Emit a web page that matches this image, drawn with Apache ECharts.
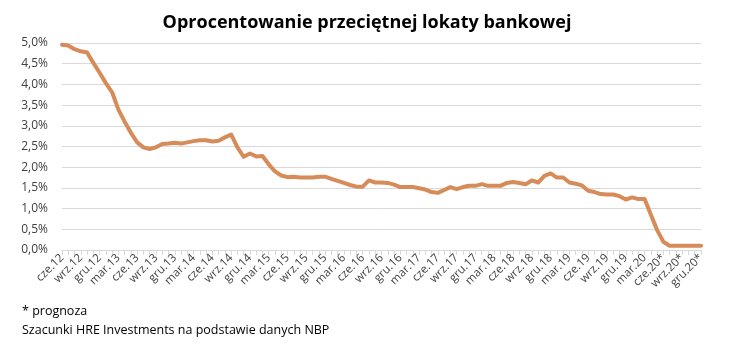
<!DOCTYPE html>
<html>
<head>
<meta charset="utf-8">
<script src="https://cdn.jsdelivr.net/npm/echarts@6/dist/echarts.min.js"></script>
<style>
html,body{margin:0;padding:0;background:#fff;}
#c{width:734px;height:348px;}
</style>
</head>
<body>
<div id="c"></div>
<script>
// Month names (Polish abbreviations) and years covered
var monthNames = ['sty','lut','mar','kwi','maj','cze','lip','sie','wrz','paź','lis','gru'];
var firstYear = 2012, firstMonth = 5; // June 2012
var forecastFrom = 96; // index of cze.20 (forecast marked with *)

// Average bank deposit rate, % (June 2012 – December 2020)
var rates = [
  4.96, 4.94, 4.85, 4.80, 4.77, 4.52, 4.28, 4.03, 3.81, 3.39,
  3.10, 2.83, 2.60, 2.48, 2.44, 2.48, 2.56, 2.57, 2.59, 2.57,
  2.60, 2.63, 2.65, 2.65, 2.62, 2.64, 2.72, 2.79, 2.48, 2.25,
  2.33, 2.26, 2.27, 2.07, 1.90, 1.80, 1.76, 1.77, 1.75, 1.75,
  1.75, 1.77, 1.77, 1.72, 1.67, 1.62, 1.57, 1.53, 1.53, 1.68,
  1.63, 1.63, 1.62, 1.58, 1.52, 1.52, 1.52, 1.49, 1.46, 1.40,
  1.38, 1.45, 1.52, 1.47, 1.52, 1.55, 1.55, 1.59, 1.55, 1.55,
  1.55, 1.62, 1.64, 1.62, 1.59, 1.68, 1.63, 1.79, 1.85, 1.75,
  1.75, 1.63, 1.60, 1.56, 1.43, 1.40, 1.35, 1.34, 1.34, 1.30,
  1.22, 1.27, 1.23, 1.23, 0.85, 0.48, 0.20, 0.10, 0.10, 0.10,
  0.10, 0.10, 0.10
];

var categories = [];
for (var i = 0; i < rates.length; i++) {
  var m = (firstMonth + i) % 12;
  var y = firstYear + Math.floor((firstMonth + i) / 12);
  categories.push(monthNames[m] + '.' + String(y).slice(2) + (i >= forecastFrom ? '*' : ''));
}

var titleText = 'Oprocentowanie przeciętnej lokaty bankowej';
var noteLines = ['* prognoza', 'Szacunki HRE Investments na podstawie danych NBP'];

var chart = echarts.init(document.getElementById('c'));
var font = '"Open Sans", "Noto Sans", sans-serif';
chart.setOption({
  animation: false,
  backgroundColor: '#fff',
  title: {
    text: titleText,
    left: 'center',
    top: 9,
    textStyle: {fontFamily: font, fontSize: 18, fontWeight: 'bold', color: '#000'}
  },
  graphic: [
    {type: 'text', left: 22, top: 305, style: {text: noteLines[0], font: '12.5px ' + font, fill: '#000'}},
    {type: 'text', left: 22, top: 324, style: {text: noteLines[1], font: '12.5px ' + font, fill: '#000'}}
  ],
  grid: {left: 62, right: 33, top: 43, bottom: 98, containLabel: false},
  xAxis: {
    type: 'category',
    data: categories,
    boundaryGap: false,
    axisLine: {lineStyle: {color: '#d9d9d9', width: 1}},
    axisTick: {show: true, interval: 0, length: 5, lineStyle: {color: '#d9d9d9'}},
    axisLabel: {interval: 2, rotate: 45, fontFamily: font, fontSize: 11.5, color: '#404040', margin: 6}
  },
  yAxis: {
    type: 'value',
    min: 0, max: 5, interval: 0.5,
    axisLine: {show: false},
    axisTick: {show: false},
    splitLine: {lineStyle: {color: '#d9d9d9', width: 1}},
    axisLabel: {
      fontFamily: font, fontSize: 12, color: '#404040', margin: 14,
      formatter: function (v) { return v.toFixed(1).replace('.', ',') + '%'; }
    }
  },
  series: [{
    type: 'line',
    data: rates,
    showSymbol: false,
    lineStyle: {color: '#D68B59', width: 4, cap: 'round', join: 'round'},
    itemStyle: {color: '#D68B59'}
  }]
});
</script>
</body>
</html>
